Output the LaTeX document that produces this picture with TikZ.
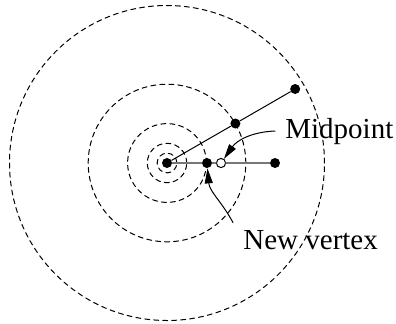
\documentclass[tikz,border=0pt]{standalone}
\usepackage{fontspec}
\setmainfont{Liberation Serif}
\usetikzlibrary{arrows.meta}

\definecolor{edge}{HTML}{777777}

\begin{document}
\begin{tikzpicture}[
  x=0.5pt, y=0.5pt,
  line cap=round, line join=round,
  every node/.style={font=\fontsize{14.5}{17}\selectfont},
  ring/.style={line width=0.5pt, dash pattern=on 2.5pt off 2pt},
  spoke/.style={draw=black, line width=0.5pt},
  probe/.style={draw=edge, line width=0.8pt},
  dot/.style={circle, fill=black, minimum size=5pt, inner sep=0pt},
  hollow/.style={circle, draw=black, fill=white, line width=0.5pt, minimum size=4.6pt, inner sep=0pt},
  lbl/.style={inner xsep=5pt, inner ysep=3.5pt, anchor=base west},
  pointer/.style={line width=0.5pt, -{Triangle[length=7.5pt, width=4pt]}},
]
\useasboundingbox (-167,-160) rectangle (229,163);
\foreach \r in {9.85,19.7,39.4,78.8,157.5}
  \draw[ring] (0,0) circle (\r);
\node[dot] (o) at (0,0) {};
\node[dot] (near) at (30:79) {};
\node[dot] (far) at (30:148) {};
\node[dot] (nv) at (40,0) {};
\node[hollow] (mid) at (54,0) {};
\node[dot] (end) at (108,0) {};
\draw[spoke] (o) -- (near) -- (far);
\draw[probe] (o) -- (nv) -- (mid) -- (end);
\node[lbl] (midlbl) at (108,25) {Midpoint};
\node[lbl] (nvlbl) at (66,-86) {New vertex};
\draw[pointer] (midlbl.west) to[out=182, in=55] (mid);
\draw[pointer] (nvlbl.north west) to[out=118, in=-85] (nv);
\end{tikzpicture}
\end{document}
